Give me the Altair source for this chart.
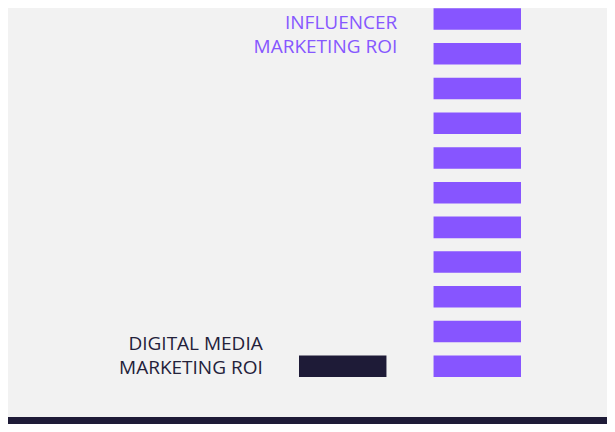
import altair as alt
import pandas as pd

# Data
categories = ["Digital media marketing ROI", "Influencer marketing ROI"]
label_lines = [["DIGITAL MEDIA", "MARKETING ROI"], ["INFLUENCER", "MARKETING ROI"]]
segments = [1, 11]  # number of stacked units per category
bar_colors = ["#1e1b37", "#8755ff"]
text_colors = ["#23213a", "#8657ff"]

SEG_FRAC = 0.62  # visible share of each unit (rest is the gap)

rows = []
for c, n in zip(categories, segments):
    for i in range(n):
        rows.append({"cat": c, "y0": i, "y1": i + SEG_FRAC})
df = pd.DataFrame(rows)

xscale = alt.Scale(domain=categories, range=[291, 513], paddingInner=0.35, paddingOuter=0)
yscale = alt.Scale(domain=[-1.355, 10.63], nice=False, zero=False)

bars = alt.Chart(df).mark_bar(cornerRadius=0).encode(
    x=alt.X("cat:N", scale=xscale, axis=None),
    y=alt.Y("y0:Q", scale=yscale, axis=None),
    y2="y1:Q",
    color=alt.Color("cat:N", scale=alt.Scale(domain=categories, range=bar_colors), legend=None),
)

def label(idx, ypx):
    d = pd.DataFrame([{"cat": categories[idx], "txt": label_lines[idx]}])
    return alt.Chart(d).mark_text(
        align="right", baseline="alphabetic", dx=-80, fontSize=19,
        font="Open Sans", lineHeight=24, color=text_colors[idx],
    ).encode(
        x=alt.X("cat:N", scale=xscale, axis=None),
        y=alt.value(ypx),
        text="txt",
    )

lab_digital = label(0, 342)
lab_infl = label(1, 21)

baseline = alt.Chart(pd.DataFrame({"a": [0]})).mark_rule(
    strokeWidth=7, color="#1e1b37"
).encode(x=alt.value(0), x2=alt.value(599), y=alt.value(412.5))

chart = alt.layer(bars, lab_digital, lab_infl, baseline).properties(
    width=599, height=416,
    autosize=alt.AutoSizeParams(type="none"),
    padding=0,
    background="#f2f2f2",
).configure_view(stroke=None)

chart.save("out.html", embed_options={"renderer": "svg", "actions": False})
